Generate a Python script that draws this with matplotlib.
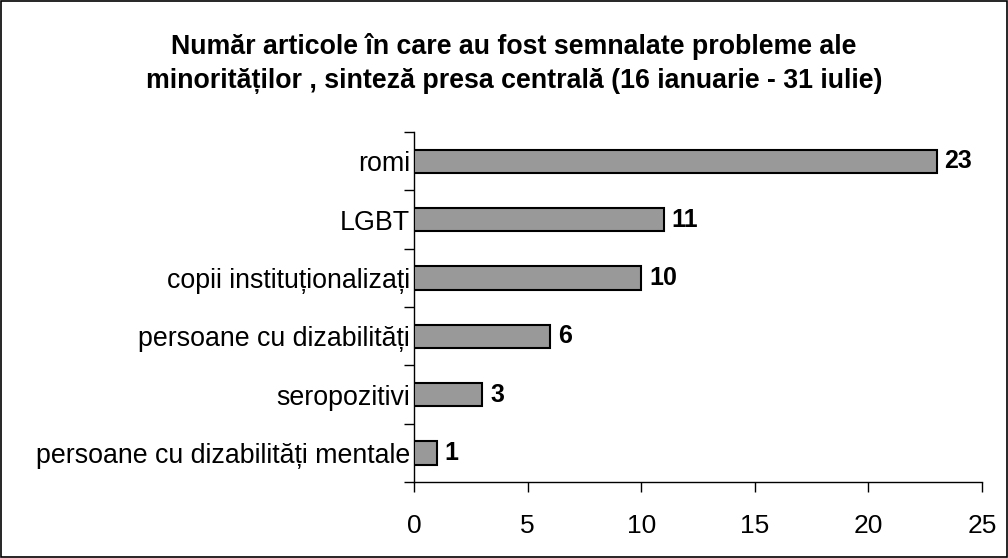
import matplotlib
matplotlib.use("Agg")
import matplotlib.pyplot as plt
from matplotlib.patches import Rectangle

plt.rcParams['font.family'] = ['Liberation Sans', 'DejaVu Sans']

categories = ["romi", "LGBT", "copii instituționalizați", "persoane cu dizabilități",
              "seropozitivi", "persoane cu dizabilități mentale"]
values = [23, 11, 10, 6, 3, 1]
xticks = [0, 5, 10, 15, 20, 25]
title = ("Număr articole în care au fost semnalate probleme ale\n"
         "minorităților , sinteză presa centrală (16 ianuarie - 31 iulie)")

fig = plt.figure(figsize=(10.08, 5.58), dpi=100)
fig.patches.append(Rectangle((0.001, 0.001), 0.998, 0.997, transform=fig.transFigure,
                             fill=False, edgecolor='black', linewidth=1.2))
ax = fig.add_axes([414/1008, 1-482/558, (982-414)/1008, (482-132)/558])

n = len(categories)
pos = list(range(n))
ax.barh(pos, values, height=0.4, color='#999999', edgecolor='black', linewidth=1.5, zorder=3)
for p, v in zip(pos, values):
    ax.text(v + 0.35, p, str(v), va='center', ha='left', fontsize=18, fontweight='bold')

ax.set_ylim(n - 0.5, -0.5)
ax.set_xlim(0, 25)
ax.set_yticks(pos)
ax.set_yticklabels(categories, fontsize=19.3)
ax.tick_params(axis='y', length=0, pad=3)
ax.set_yticks([i - 0.5 for i in range(n + 1)], minor=True)
ax.tick_params(axis='y', which='minor', length=7, width=1, direction='out')
ax.set_xticks(xticks)
ax.set_xticklabels([str(t) for t in xticks], fontsize=19)
ax.tick_params(axis='x', length=7, width=1, direction='out', pad=16)
for s in ['top', 'right']:
    ax.spines[s].set_visible(False)
for s in ['left', 'bottom']:
    ax.spines[s].set_linewidth(1)

fig.text(0.510, 0.886, title, ha='center', va='center', fontsize=19.3, fontweight='bold',
         linespacing=1.4)

fig.savefig("out.png", dpi=100)
